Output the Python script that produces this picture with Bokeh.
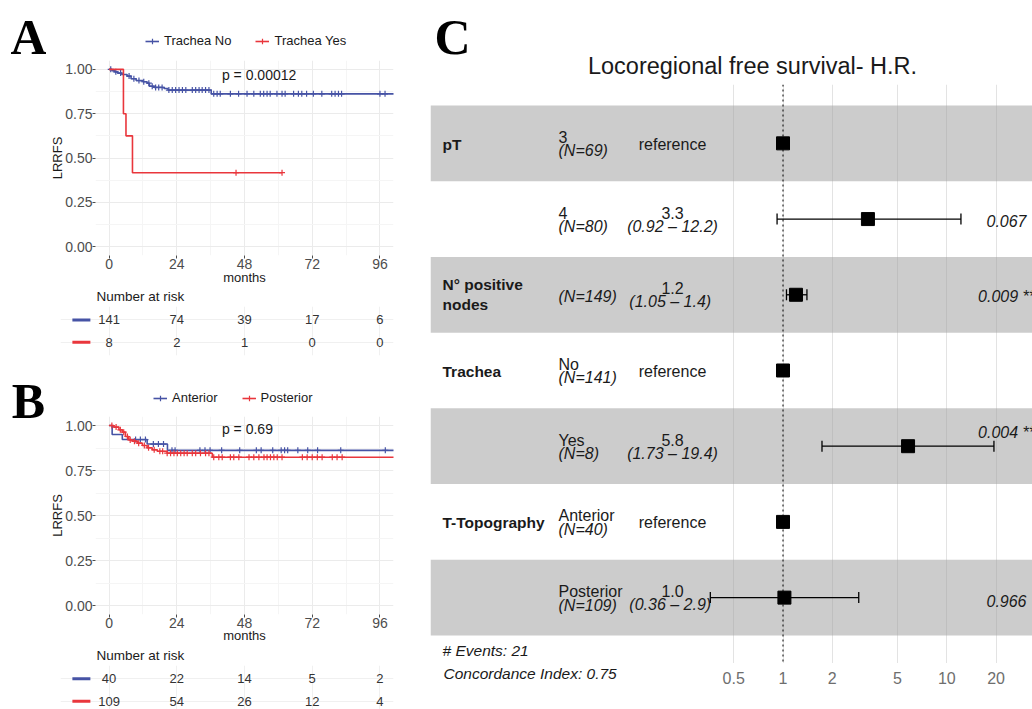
import numpy as np
from bokeh.plotting import figure
from bokeh.layouts import row, column
from bokeh.models import (Range1d, FixedTicker, PrintfTickFormatter, NumeralTickFormatter,
                          Legend, LegendItem, Span, Whisker, TeeHead, ColumnDataSource)
from bokeh.core.properties import value
from bokeh.embed import file_html
from bokeh.resources import INLINE

FONT = "Liberation Sans"
SERIF = "Liberation Serif"
BLUE = "#4653A5"
RED = "#E9363C"
INK = "#1A1A1A"
AXIS_GREY = "#4D4D4D"

# ---------------- data ----------------
MONTH_TICKS = [0, 24, 48, 72, 96]
MONTH_MINOR = [12, 36, 60, 84]
SURV_TICKS = [0, 0.25, 0.5, 0.75, 1.0]
SURV_MINOR = [0.125, 0.375, 0.625, 0.875]

# Panel A : trachea
a_labels = ["Trachea No", "Trachea Yes"]
a_no_time = [0, 1, 2, 3, 4.5, 6.4, 7.8, 9.6, 12, 13.5, 14.3, 16, 19.5, 20.9, 36.2]
a_no_surv = [1, .993, .986, .979, .971, .962, .947, .937, .93, .922, .905, .898, .892, .883, .862]
a_no_end = 101
a_no_cens = [0.6, 2.4, 4.1, 7.1, 8.8, 10.6, 12.3, 14.1, 15.3, 16.5, 17.6, 18.8,
             21.2, 22.4, 23.6, 24.8, 26, 27.2, 29.5, 30.7, 31.9, 33, 34.2, 35.4,
             37.1, 38.3, 39.4, 43, 45.9, 48.9, 51.3, 53.6, 54.8, 56, 57.1, 59.5, 61.3,
             62.4, 65.4, 67.1, 68.3, 70, 72.4, 75.4, 78.9, 80.1, 81.3, 82.4, 96, 97.8]
a_yes_time = [0, 5.1, 6.0, 8.3]
a_yes_surv = [1, .75, .625, .417]
a_yes_end = 61.3
a_yes_cens = [45, 61.3]
a_pval = "p = 0.00012"
a_risk_no = [141, 74, 39, 17, 6]
a_risk_yes = [8, 2, 1, 0, 0]

# Panel B : T-topography
b_labels = ["Anterior", "Posterior"]
b_ant_time = [0, 1.1, 4.7, 13.5, 20.7]
b_ant_surv = [1, .95, .922, .897, .862]
b_ant_end = 101
b_ant_cens = [9.4, 11.1, 12.9, 15.7, 17.5, 19.3, 22.3, 23.4, 32.2, 34, 35.8, 39.9, 46.3,
              52.2, 53.9, 58, 61, 62.2, 63.3, 66.9, 70.4, 73.9, 82.1, 97.9]
b_post_time = [0, 1.7, 3.5, 4.7, 5.8, 7.0, 8.2, 10, 11.8, 13.5, 15.3, 17.1, 20.6, 36.6]
b_post_surv = [1, .991, .976, .963, .939, .920, .913, .902, .889, .876, .865, .857, .846, .824]
b_post_end = 101
b_post_cens = [1, 2.5, 4, 5.2, 6.5, 7.5, 9, 10.5, 12.5, 14, 16, 18, 19,
               20.6, 21.8, 23.0, 24.2, 25.4, 26.6, 27.7, 29.5, 30.7, 32.4, 34.2, 35.4,
               37.1, 38.9, 40.1, 43.0, 44.2, 46.0, 49.6, 51.3, 53.1, 54.9, 56.0, 57.2, 58.4,
               59.6, 61.3, 68.5, 70.2, 72.0, 73.8, 75.5, 79.1, 80.8, 82.6]
b_pval = "p = 0.69"
b_risk_ant = [40, 22, 14, 5, 2]
b_risk_post = [109, 54, 26, 12, 4]

# Panel C : forest plot
fp_title = "Locoregional free survival- H.R."
fp_var = ["pT", "", "N° positive\nnodes", "Trachea", "", "T-Topography", ""]
fp_level = ["3", "4", "", "No", "Yes", "Anterior", "Posterior"]
fp_n = [69, 80, 149, 141, 8, 40, 109]
fp_hr = [1.0, 3.3, 1.2, 1.0, 5.8, 1.0, 1.02]
fp_lo = [None, 0.92, 1.05, None, 1.73, None, 0.36]
fp_hi = [None, 12.2, 1.4, None, 19.4, None, 2.9]
fp_p = ["", "0.067", "0.009 **", "", "0.004 **", "", "0.966"]
fp_events = 21
fp_cindex = 0.75
fp_ticks = [0.5, 1, 2, 5, 10, 20]

STRIP = 46          # width of the strip that holds the panel letters A and B
LW = 430 - STRIP    # width of the rest of the left column


def surv_at(times, surv, c):
    idx = np.searchsorted(np.asarray(times, float), np.asarray(c, float), side="right") - 1
    return np.asarray(surv, float)[idx]


def base_fig(**kw):
    return figure(title=None, toolbar_location=None, output_backend="svg",
                  outline_line_color=None, **kw)


def canvas_fig(w, h):
    """A figure whose frame is its whole canvas, with pixel-like coordinates."""
    p = base_fig(width=w, height=h, x_range=Range1d(0, w), y_range=Range1d(h, 0),
                 min_border_left=0, min_border_right=0, min_border_top=0, min_border_bottom=0,
                 x_axis_location=None, y_axis_location=None)
    p.grid.visible = False
    return p


def letter(p, txt, x, y):
    p.text(x=[x], y=[y], text=[txt], text_font=value(SERIF), text_font_style=value("bold"),
           text_font_size="50px", text_align="center", text_baseline="middle",
           text_color="black")


def header(h, labels, legend_vx, legend_vy):
    p = canvas_fig(LW, h)
    items = []
    # legend keys: renderers styled like the curves (their single point lies off-canvas)
    for name, color in zip(labels, [BLUE, RED]):
        lr = p.line(x=[-60, -50], y=[-60, -60], line_color=color, line_width=1.6)
        cr = p.scatter(x=[-60], y=[-60], marker="cross", size=6, line_color=color,
                       line_width=1.2)
        items.append(LegendItem(label=name, renderers=[lr, cr]))
    p.add_layout(Legend(items=items, location=(legend_vx, legend_vy), orientation="horizontal",
                        glyph_width=14, glyph_height=14, label_height=14, label_standoff=5,
                        spacing=24, padding=0, margin=0, border_line_color=None,
                        background_fill_alpha=0, label_text_font=FONT,
                        label_text_font_size="13px", label_text_color=INK))
    return p


def km_panel(height, b_bottom, series, pval, pval_y, months_standoff):
    p = base_fig(width=LW, height=height,
                 x_range=Range1d(-4.8, 100.8), y_range=Range1d(-0.05, 1.05),
                 min_border_left=95 - STRIP, min_border_right=37, min_border_top=0,
                 min_border_bottom=b_bottom)
    p.xaxis.ticker = FixedTicker(ticks=MONTH_TICKS, minor_ticks=MONTH_MINOR)
    p.yaxis.ticker = FixedTicker(ticks=SURV_TICKS, minor_ticks=SURV_MINOR)
    p.yaxis.formatter = PrintfTickFormatter(format="%.2f")
    for ax in (p.xaxis[0], p.yaxis[0]):
        ax.axis_line_color = None
        ax.major_tick_out = 3
        ax.major_tick_in = 0
        ax.minor_tick_out = 0
        ax.minor_tick_in = 0
        ax.major_tick_line_color = AXIS_GREY
        ax.major_label_text_font = FONT
        ax.major_label_text_font_size = "14px"
        ax.major_label_text_color = AXIS_GREY
        ax.major_label_standoff = 0
        ax.axis_label_text_font = FONT
        ax.axis_label_text_font_size = "13px"
        ax.axis_label_text_font_style = "normal"
        ax.axis_label_text_color = INK
    p.yaxis.axis_label = "LRRFS"
    p.yaxis.axis_label_standoff = -3
    p.xaxis.axis_label = "months"
    p.xaxis.axis_label_standoff = months_standoff
    p.grid.grid_line_color = "#EBEBEB"
    p.grid.minor_grid_line_color = "#F5F5F5"

    for name, t, s, end, cens, color in series:
        p.step(x=list(t) + [end], y=list(s) + [s[-1]], mode="after",
               line_color=color, line_width=1.6)
        p.scatter(x=cens, y=surv_at(t, s, cens), marker="cross", size=6,
                  line_color=color, line_width=1.2)
    p.text(x=[40], y=[pval_y], text=[pval], text_font=value(FONT), text_font_size="14px",
           text_align="left", text_baseline="middle", text_color=INK)
    return p


def risk_title(h, y):
    p = canvas_fig(LW, h)
    p.text(x=[96 - STRIP], y=[y], text=["Number at risk"], text_font=value(FONT),
           text_font_size="13.5px", text_align="left", text_baseline="middle", text_color=INK)
    return p


def risk_panel(height, b_bottom, y_lo, y_hi, counts_top, counts_bottom):
    p = base_fig(width=LW, height=height,
                 x_range=Range1d(-17.2, 100.8), y_range=Range1d(y_lo, y_hi),
                 min_border_left=60 - STRIP, min_border_right=37, min_border_top=0,
                 min_border_bottom=b_bottom, x_axis_location=None, y_axis_location=None)
    p.xgrid.ticker = FixedTicker(ticks=MONTH_TICKS)
    p.ygrid.ticker = FixedTicker(ticks=[1, 2])
    p.grid.grid_line_color = "#F0F0F0"
    xs = MONTH_TICKS + MONTH_TICKS
    ys = [2] * len(counts_top) + [1] * len(counts_bottom)
    txt = [str(v) for v in counts_top + counts_bottom]
    p.text(x=xs, y=ys, text=txt, text_font=value(FONT), text_font_size="13px",
           text_align="center", text_baseline="middle", text_color="#333333")
    p.scatter(x=[-9.8, -9.8], y=[2, 1], marker="dash", size=18,
              line_color=[BLUE, RED], line_width=3)
    return p


strip = canvas_fig(STRIP, 709)
letter(strip, "A", 28, 36)
letter(strip, "B", 28, 400)

headA = header(60, a_labels, 145 - STRIP, 12)
figA = km_panel(228, 33,
                [(a_labels[0], a_no_time, a_no_surv, a_no_end, a_no_cens, BLUE),
                 (a_labels[1], a_yes_time, a_yes_surv, a_yes_end, a_yes_cens, RED)],
                a_pval, 0.966, -2)
rtA = risk_title(18, 7.5)
riskA = risk_panel(62, 13, 0.401, 2.608, a_risk_no, a_risk_yes)
headB = header(48, b_labels, 153 - STRIP, 11)
figB = km_panel(229, 31,
                [(b_labels[0], b_ant_time, b_ant_surv, b_ant_end, b_ant_cens, BLUE),
                 (b_labels[1], b_post_time, b_post_surv, b_post_end, b_post_cens, RED)],
                b_pval, 0.983, -3)
rtB = risk_title(20, 10)
riskB = risk_panel(44, 0, 0.629, 2.594, b_risk_ant, b_risk_post)

rest = column(*[row(f) for f in (headA, figA, rtA, riskA, headB, figB, rtB, riskB)])
left_col = row(column(strip), rest)

# ---------------- forest plot ----------------
FW = 602
HEAD_H, FRAME_H, FOOT_H = 84, 579, 46
ONE_PX = 352.5          # frame x-pixel of HR = 1
DEC_PX = 163.8          # pixels per decade
ROW_PX = 75.71
SPLIT = 270


def hx(px):
    return 10 ** ((px - ONE_PX) / DEC_PX)


def dy(px):
    return -px / ROW_PX


n_rows = len(fp_level)
y_hi = n_rows + 0.5 + 21 / ROW_PX
y_lo = y_hi - FRAME_H / ROW_PX
x_lo, x_hi = hx(0), hx(FW)

headC = canvas_fig(FW, HEAD_H)
letter(headC, "C", 22, 36)
headC.text(x=[322], y=[65], text=[fp_title], text_font=value(FONT), text_font_size="23.5px",
           text_align="center", text_baseline="middle", text_color=INK)

figC = base_fig(width=FW, height=FRAME_H, x_axis_type="log",
                x_range=Range1d(x_lo, x_hi), y_range=Range1d(y_lo, y_hi),
                min_border_left=0, min_border_right=0, min_border_top=0, min_border_bottom=0,
                x_axis_location=None, y_axis_location=None)
figC.ygrid.visible = False
figC.xgrid.ticker = FixedTicker(ticks=fp_ticks)
figC.xgrid.grid_line_color = "#E3E3E3"

row_k = [n_rows - i for i in range(n_rows)]
band_k = [row_k[i] for i in range(0, n_rows, 2)]
figC.hbar(y=band_k, height=1, left=x_lo / 2, right=x_hi * 2,
          fill_color="#A0A0A0", fill_alpha=0.54, line_color=None)

VAR_X, LEV_X, EST_X, P_X = hx(12), hx(128), hx(242), hx(576)
bold_x, bold_y, bold_t = [], [], []
reg_x, reg_y, reg_t, reg_a = [], [], [], []
it_x, it_y, it_t, it_a = [], [], [], []
for i in range(n_rows):
    k = row_k[i]
    lines = [s for s in fp_var[i].split("\n") if s]
    if len(lines) == 1:
        bold_x.append(VAR_X); bold_y.append(k + dy(1)); bold_t.append(lines[0])
    elif len(lines) == 2:
        bold_x += [VAR_X, VAR_X]; bold_y += [k + dy(-10), k + dy(10)]; bold_t += lines
    if fp_level[i]:
        reg_x.append(LEV_X); reg_y.append(k + dy(-6)); reg_t.append(fp_level[i]); reg_a.append("left")
        it_x.append(LEV_X); it_y.append(k + dy(7.5)); it_t.append(f"(N={fp_n[i]})"); it_a.append("left")
    else:
        it_x.append(LEV_X); it_y.append(k + dy(2)); it_t.append(f"(N={fp_n[i]})"); it_a.append("left")
    if fp_lo[i] is None:
        reg_x.append(EST_X); reg_y.append(k + dy(1)); reg_t.append("reference"); reg_a.append("center")
    else:
        reg_x.append(EST_X); reg_y.append(k + dy(-6.5)); reg_t.append(f"{fp_hr[i]:.1f}"); reg_a.append("center")
        it_x.append(EST_X); it_y.append(k + dy(7)); it_a.append("center")
        it_t.append(f"({fp_lo[i]:.2f} – {fp_hi[i]:4.1f})")

p_dy = {1: 2, 2: 2, 4: -14, 6: 3}
pv_x, pv_y, pv_t = [], [], []
for i in range(n_rows):
    if fp_p[i]:
        pv_x.append(P_X); pv_y.append(row_k[i] + dy(p_dy.get(i, 0))); pv_t.append(fp_p[i])

figC.text(x=bold_x, y=bold_y, text=bold_t, text_font=value(FONT), text_font_size="15.5px",
          text_font_style=value("bold"), text_align="left", text_baseline="middle", text_color=INK)
figC.text(x=reg_x, y=reg_y, text=reg_t, text_font=value(FONT), text_font_size="16px",
          text_align=reg_a, text_baseline="middle", text_color=INK)
figC.text(x=it_x, y=it_y, text=it_t, text_font=value(FONT), text_font_size="16px",
          text_font_style=value("italic"), text_align=it_a, text_baseline="middle",
          text_color=INK)
figC.text(x=pv_x, y=pv_y, text=pv_t, text_font=value(FONT), text_font_size="16px",
          text_font_style=value("italic"), text_align="center", text_baseline="middle",
          text_color=INK)
figC.text(x=[VAR_X], y=[y_lo + 13 / ROW_PX], text=[f"# Events: {fp_events}"],
          text_font=value(FONT), text_font_size="15.5px", text_font_style=value("italic"),
          text_align="left", text_baseline="middle", text_color=INK)

ci_rows = [i for i in range(n_rows) if fp_lo[i] is not None]
wsrc = ColumnDataSource(dict(base=[row_k[i] for i in ci_rows],
                             lower=[fp_lo[i] for i in ci_rows],
                             upper=[fp_hi[i] for i in ci_rows]))
figC.scatter(x=fp_hr, y=row_k, marker="square", size=13, fill_color="black", line_color="black")
figC.add_layout(Whisker(source=wsrc, base="base", lower="lower", upper="upper",
                        dimension="width", line_width=1.3, line_color="black", level="annotation",
                        upper_head=TeeHead(size=11, line_width=1.3, line_color="black"),
                        lower_head=TeeHead(size=11, line_width=1.3, line_color="black")))
figC.add_layout(Span(location=1, dimension="height", line_color="black", line_width=1,
                     line_dash="2 3"))

footL = canvas_fig(SPLIT, FOOT_H)
footL.text(x=[13], y=[10], text=[f"Concordance Index: {fp_cindex}"], text_font=value(FONT),
           text_font_size="15.5px", text_font_style=value("italic"), text_align="left",
           text_baseline="middle", text_color=INK)

footR = base_fig(width=FW - SPLIT, height=FOOT_H, x_axis_type="log",
                 x_range=Range1d(hx(SPLIT), x_hi), y_range=Range1d(0, 1),
                 min_border_left=0, min_border_right=0, min_border_top=0,
                 min_border_bottom=FOOT_H - 1, y_axis_location=None)
footR.grid.visible = False
footR.xaxis.ticker = FixedTicker(ticks=fp_ticks)
footR.xaxis.formatter = NumeralTickFormatter(format="0.[0]")
footR.xaxis.axis_line_color = None
footR.xaxis.major_tick_line_color = None
footR.xaxis.minor_tick_line_color = None
footR.xaxis.major_label_text_font = FONT
footR.xaxis.major_label_text_font_size = "16px"
footR.xaxis.major_label_text_color = "#6E6E6E"
footR.xaxis.major_label_standoff = 1

right_col = column(row(headC), row(figC), row(column(footL), footR))

layout = row(left_col, right_col)
open("out.html", "w").write(file_html(layout, INLINE))
